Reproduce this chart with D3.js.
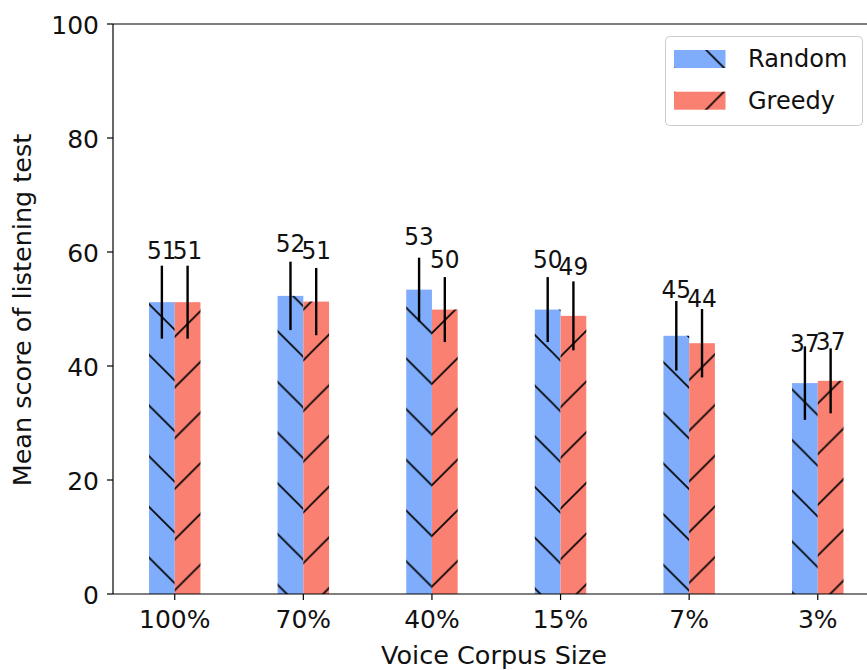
<!DOCTYPE html>
<html><head><meta charset="utf-8">
<script src="https://cdn.jsdelivr.net/npm/d3@7"></script>
<style>body{margin:0;background:#fff}svg{display:block}text{font-family:"DejaVu Sans",sans-serif;fill:#111}</style>
</head><body><svg id="c" width="867" height="670"></svg>
<script>
const categories = ["100%","70%","40%","15%","7%","3%"];
const randomScores = [51.2, 52.3, 53.4, 49.9, 45.3, 37.0];
const greedyScores = [51.2, 51.3, 49.9, 48.8, 44.0, 37.4];
const randomErr = [6.4, 6.0, 5.6, 5.7, 6.1, 6.45];
const greedyErr = [6.4, 5.9, 5.7, 6.05, 6.0, 5.7];
const randomLabels = ["51","52","53","50","45","37"];
const greedyLabels = ["51","51","50","49","44","37"];
const yTicks = [0,20,40,60,80,100];
const seriesNames = ["Random","Greedy"];
const colors = ["#80adfb","#fa8072"];

const svg = d3.select("#c");
const mLeft = 113, mTop = 24, mBottom = 594, mRight = 879.5;
const x = d3.scaleLinear().domain([-0.48, 5.48]).range([mLeft, mRight]);
const y = d3.scaleLinear().domain([0, 100]).range([mBottom, mTop]);
const barW = x(0.2) - x(0);

const P = 50.7;
const defs = svg.append("defs");
function hatch(id, back, tx) {
  const p = defs.append("pattern").attr("id", id).attr("patternUnits","userSpaceOnUse")
    .attr("width", P).attr("height", P).attr("patternTransform", `translate(${tx},0)`);
  const d = back
    ? `M0,0L${P},${P}M${-2},${P-2}L2,${P+2}M${P-2},-2L${P+2},2`
    : `M0,${P}L${P},0M-2,2L2,-2M${P-2},${P+2}L${P+2},${P-2}`;
  p.append("path").attr("d", d).attr("stroke","#000").attr("stroke-width",1.6).attr("fill","none");
}
hatch("hb", true, 47.8);
hatch("hf", false, 4.5);
const hatchIds = ["hb","hf"];

function txt(g, s, xx, yy, size, anchor, sx, rot) {
  return g.append("text").text(s).attr("font-size", size).attr("text-anchor", anchor)
    .attr("transform", `translate(${xx},${yy})` + (rot ? ` rotate(${rot})` : "") + ` scale(${sx},1)`);
}

const series = [
  {vals: randomScores, err: randomErr, labels: randomLabels, off: -0.1},
  {vals: greedyScores, err: greedyErr, labels: greedyLabels, off: 0.1}
];
const plot = svg.append("g");
series.forEach((s, si) => {
  const g = plot.append("g");
  categories.forEach((c, i) => {
    const cx = x(i + s.off);
    g.append("rect").attr("x", cx - barW/2).attr("width", barW)
      .attr("y", y(s.vals[i])).attr("height", y(0) - y(s.vals[i])).attr("fill", colors[si]);
    g.append("rect").attr("x", cx - barW/2).attr("width", barW)
      .attr("y", y(s.vals[i])).attr("height", y(0) - y(s.vals[i])).attr("fill", `url(#${hatchIds[si]})`);
  });
});
series.forEach((s, si) => {
  categories.forEach((c, i) => {
    const cx = x(i + s.off);
    plot.append("line").attr("x1", cx).attr("x2", cx)
      .attr("y1", y(s.vals[i] - s.err[i])).attr("y2", y(s.vals[i] + s.err[i]))
      .attr("stroke","#000").attr("stroke-width",2.4);
  });
});
series.forEach((s, si) => {
  categories.forEach((c, i) => {
    txt(plot, s.labels[i], x(i + s.off), y(1.15 * s.vals[i]) + 1, 24.5, "middle", 0.95);
  });
});

// axes
const ax = svg.append("g");
ax.append("line").attr("x1", mLeft).attr("x2", mLeft).attr("y1", mTop).attr("y2", mBottom).attr("stroke","#000").attr("stroke-width",1.2);
ax.append("line").attr("x1", mLeft).attr("x2", 867).attr("y1", mBottom).attr("y2", mBottom).attr("stroke","#000").attr("stroke-width",1.2);
ax.append("line").attr("x1", mLeft).attr("x2", 867).attr("y1", mTop).attr("y2", mTop).attr("stroke","#000").attr("stroke-width",1.2);
yTicks.forEach(v => {
  ax.append("line").attr("x1", mLeft - 6).attr("x2", mLeft).attr("y1", y(v)).attr("y2", y(v)).attr("stroke","#000").attr("stroke-width",1.2);
  txt(ax, String(v), 99, y(v) + 9.5, 25, "end", 1);
});
categories.forEach((c, i) => {
  ax.append("line").attr("x1", x(i)).attr("x2", x(i)).attr("y1", mBottom).attr("y2", mBottom + 6).attr("stroke","#000").attr("stroke-width",1.2);
  txt(ax, c, x(i), 628, 25, "middle", 1);
});
txt(ax, "Voice Corpus Size", 494, 664, 25.5, "middle", 1);
txt(ax, "Mean score of listening test", 31, 310, 25.5, "middle", 1, -90);

// legend
const lg = svg.append("g");
lg.append("rect").attr("x", 665.5).attr("y", 36.5).attr("width", 197).attr("height", 89).attr("rx", 4)
  .attr("fill", "#fff").attr("fill-opacity", 0.8).attr("stroke", "#ccc").attr("stroke-width", 1);
seriesNames.forEach((n, i) => {
  const yy = 50 + i * 41.7;
  lg.append("rect").attr("x", 674).attr("y", yy).attr("width", 51.5).attr("height", 18).attr("fill", colors[i]);
  lg.append("rect").attr("x", 674).attr("y", yy).attr("width", 51.5).attr("height", 18).attr("fill", `url(#${hatchIds[i]})`);
  txt(lg, n, 748, yy + 17.3, 24, "start", 1);
});
</script></body></html>
